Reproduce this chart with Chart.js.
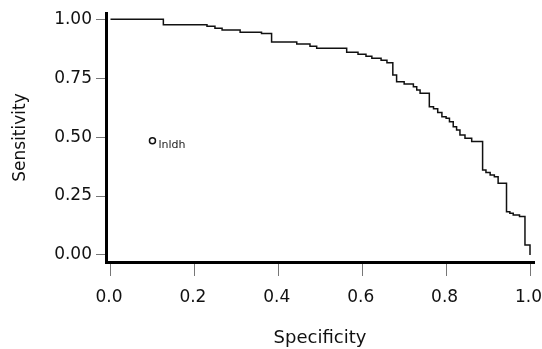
<!DOCTYPE html>
<html>
<head>
<meta charset="utf-8">
<script src="https://cdn.jsdelivr.net/npm/chart.js@4/dist/chart.umd.min.js"></script>
<style>
  html, body { margin:0; padding:0; background:#fff; }
  #wrap { width:542px; height:349px; }
</style>
</head>
<body>
<div id="wrap"><canvas id="roc" width="542" height="349"></canvas></div>
<script>
/* ── data ──────────────────────────────────────────────── */
const specificity = [0, 0.126, 0.23, 0.249, 0.266, 0.309, 0.36, 0.384, 0.444, 0.4755,
  0.4915, 0.563, 0.59, 0.609, 0.623, 0.645, 0.659, 0.673, 0.673, 0.682, 0.70, 0.722,
  0.73, 0.738, 0.76, 0.77, 0.78, 0.79, 0.80, 0.808, 0.817, 0.825, 0.833, 0.845, 0.861,
  0.887, 0.887, 0.895, 0.905, 0.915, 0.924, 0.944, 0.952, 0.96, 0.975, 0.988, 0.988, 1.0];
const sensitivity = [1.0, 0.977, 0.97, 0.962, 0.955, 0.945, 0.94, 0.904, 0.895, 0.886,
  0.877, 0.86, 0.852, 0.843, 0.835, 0.826, 0.816, 0.806, 0.764, 0.735, 0.726, 0.714,
  0.70, 0.686, 0.629, 0.62, 0.605, 0.587, 0.58, 0.565, 0.544, 0.53, 0.509, 0.495, 0.481,
  0.40, 0.361, 0.35, 0.339, 0.332, 0.304, 0.184, 0.177, 0.17, 0.163, 0.156, 0.042, 0.0];

const markSpec   = [0.1];
const markSens   = [0.485];
const markLabels = ["lnldh"];

const xTicks = [0, 0.2, 0.4, 0.6, 0.8, 1.0];
const yTicks = [0, 0.25, 0.5, 0.75, 1.0];

const FONT = "'DejaVu Sans', sans-serif";

// label next to the marked point
const markLabelPlugin = {
  id: "markLabel",
  afterDatasetsDraw(chart) {
    const { ctx, scales: { x, y } } = chart;
    ctx.save();
    ctx.font = "11px " + FONT;
    ctx.fillStyle = "#222";
    ctx.textBaseline = "middle";
    markLabels.forEach((t, i) => {
      ctx.fillText(t, x.getPixelForValue(markSpec[i]) + 6, y.getPixelForValue(markSens[i]) + 4);
    });
    ctx.restore();
  },
};

new Chart(document.getElementById("roc"), {
  type: "line",
  data: {
    datasets: [
      {
        data: specificity.map((s, i) => ({ x: s, y: sensitivity[i] })),
        stepped: true,
        borderColor: "#111",
        borderWidth: 1.5,
        pointRadius: 0,
        fill: false,
      },
      {
        type: "scatter",
        data: markSpec.map((s, i) => ({ x: s, y: markSens[i] })),
        pointRadius: 3,
        pointBorderWidth: 1.5,
        borderColor: "#111",
        backgroundColor: "#fff",
      },
    ],
  },
  options: {
    responsive: false,
    animation: false,
    layout: { padding: { top: 13, right: 8, left: 0, bottom: 0 } },
    plugins: { legend: { display: false }, tooltip: { enabled: false } },
    scales: {
      x: {
        type: "linear",
        min: -0.01073, max: 1.00953,
        afterBuildTicks: s => { s.ticks = xTicks.map(v => ({ value: v })); },
        afterFit: s => { s.height = 87; s.paddingLeft = 0; s.paddingRight = 0; },
        grid: { drawOnChartArea: false, tickLength: 14, color: "#777", lineWidth: 1 },
        border: { color: "#000", width: 3 },
        ticks: { padding: 11, labelOffset: -1.5, color: "#111", font: { family: FONT, size: 17 },
                 maxRotation: 0, callback: v => v.toFixed(1) },
        title: { display: true, text: "Specificity", color: "#111",
                 font: { family: FONT, size: 18 }, padding: { top: 0, bottom: 0 } },
      },
      y: {
        type: "linear",
        min: -0.0297, max: 1.0267,
        afterBuildTicks: s => { s.ticks = yTicks.map(v => ({ value: v })); },
        afterFit: s => { s.width = 106; s.paddingTop = 0; s.paddingBottom = 0; },
        grid: { drawOnChartArea: false, tickLength: 10, color: "#777", lineWidth: 1 },
        border: { color: "#000", width: 3 },
        ticks: { padding: 4, color: "#111", font: { family: FONT, size: 17 },
                 callback: v => v.toFixed(2) },
        title: { display: true, text: "Sensitivity", color: "#111",
                 font: { family: FONT, size: 17 }, padding: { top: 10, bottom: 0 } },
      },
    },
  },
  plugins: [markLabelPlugin],
});
</script>
</body>
</html>
